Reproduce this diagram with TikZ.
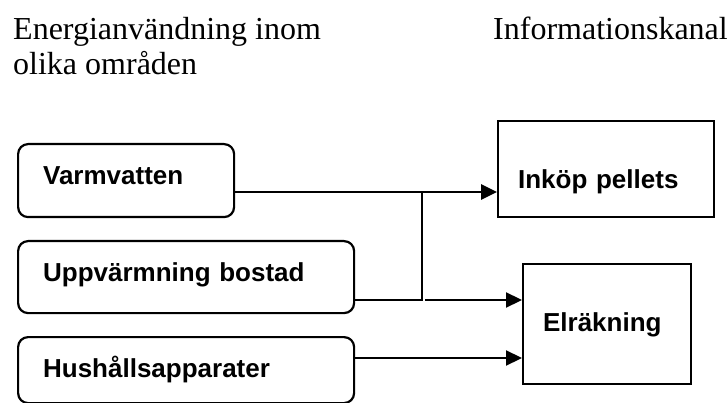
\documentclass[tikz,border=0pt]{standalone}
\usepackage{fontspec}
\setmainfont{Liberation Serif}
\setsansfont{Liberation Sans}
\usepackage{tikz}
\usetikzlibrary{arrows.meta,calc}
\tikzstyle{area} = [draw, line width=2.2pt, rounded corners=10pt, anchor=north west, inner xsep=25pt, inner ysep=0pt, align=left, font=\sffamily\bfseries\fontsize{26}{30}\selectfont]
\tikzstyle{kanal} = [draw, line width=2.2pt, anchor=north west, inner xsep=20pt, inner ysep=0pt, align=left, font=\sffamily\bfseries\fontsize{26}{30}\selectfont]
\tikzstyle{head} = [inner sep=0pt, align=left, font=\fontsize{32}{35}\selectfont]
\tikzstyle{arrow} = [draw, line width=2.2pt, -{Triangle[length=16pt,width=15pt]}]
\tikzstyle{line} = [draw, line width=2.2pt]

\begin{document}
\begin{tikzpicture}[x=1pt, y=-1pt]
      \useasboundingbox (0,0) rectangle (728,403);

      \node (omr) at (13,17) [head, anchor=north west] {Energianvändning inom\\olika områden};
      \node (kan) at (493,40) [head, anchor=base west] {Informationskanal};

      \node (vv) at (17,143) [area, text width=166pt, text height=40pt, text depth=33pt] {Varmvatten};
      \node (uv) at (17,240) [area, text width=286pt, text height=40pt, text depth=32pt] {Uppvärmning bostad};
      \node (hh) at (17,336) [area, text width=286pt, text height=40pt, text depth=26pt] {Hushållsapparater};

      \node (ip) at (497,120) [kanal, text width=176pt, text height=67pt, text depth=29pt] {Inköp pellets};
      \node (el) at (522,263) [kanal, text width=128pt, text height=67pt, text depth=53pt] {Elräkning};

      \coordinate (j) at (422,192);
      \coordinate (k) at (422,300);
      \coordinate (h) at (0,358);

      \draw[arrow, line width=2.8pt] (vv.east |- j) -- (ip.west |- j);
      \draw[line] (uv.east |- k) -- (k) -- (j);
      \draw[arrow] ([xshift=3pt]k) -- (el.west |- k);
      \draw[arrow] (hh.east |- h) -- (el.west |- h);
    \end{tikzpicture}
\end{document}
